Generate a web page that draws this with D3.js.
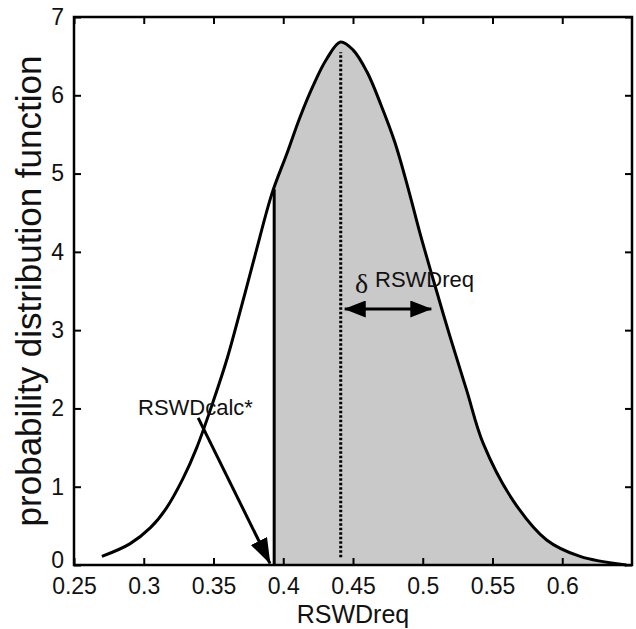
<!DOCTYPE html>
<html>
<head>
<meta charset="utf-8">
<script src="https://cdn.jsdelivr.net/npm/d3@7"></script>
<style>
  html, body { margin: 0; padding: 0; background: #fff; }
  svg { display: block; }
  text { font-family: "Liberation Sans", Arial, sans-serif; fill: #111; }
</style>
</head>
<body>
<div id="chart"></div>
<script>
// values
var xVals = [0.27, 0.29, 0.305, 0.316, 0.328, 0.338, 0.35, 0.36, 0.37, 0.38, 0.392,
  0.4025, 0.412, 0.4216, 0.431, 0.441, 0.45, 0.46, 0.47, 0.48, 0.49, 0.498, 0.5076,
  0.5195, 0.5315, 0.5434, 0.5649, 0.5888, 0.6128, 0.646];
var pdfVals = [0.11, 0.27, 0.48, 0.72, 1.1, 1.5, 2.1, 2.65, 3.3, 3.97, 4.75,
  5.25, 5.72, 6.13, 6.46, 6.68, 6.58, 6.3, 5.88, 5.4, 4.78, 4.24, 3.64,
  2.92, 2.23, 1.55, 0.82, 0.32, 0.11, 0.0];
var xTickVals = [0.25, 0.3, 0.35, 0.4, 0.45, 0.5, 0.55, 0.6];
var yTickVals = [0, 1, 2, 3, 4, 5, 6, 7];

var cutoffX = 0.3935, cutoffTop = 4.8;      // RSWDcalc* line
var meanX = 0.4412, meanBottom = 0.1, meanTop = 6.55;
var calcArrow = [[0.339, 1.88], [0.3905, 0.02]];
var deltaArrow = [[0.4412, 3.27], [0.509, 3.27]];

var width = 636, height = 629;
var margin = { top: 17, right: 4, bottom: 64, left: 74 };

var svg = d3.select("#chart").append("svg")
  .attr("width", width)
  .attr("height", height);

var x = d3.scaleLinear().domain([0.25, 0.65]).range([margin.left, width - margin.right]);
var y = d3.scaleLinear().domain([0, 7]).range([height - margin.bottom, margin.top]);

var pts = xVals.map(function(v, i) { return [v, pdfVals[i]]; });

svg.append("clipPath").attr("id", "right")
  .append("rect")
  .attr("x", x(cutoffX)).attr("y", margin.top)
  .attr("width", x(0.65) - x(cutoffX)).attr("height", y(0) - margin.top);

var area = d3.area()
  .x(function(d) { return x(d[0]); })
  .y0(y(0))
  .y1(function(d) { return y(d[1]); })
  .curve(d3.curveCatmullRom);

svg.append("path")
  .datum(pts)
  .attr("d", area)
  .attr("fill", "#c9c9c9")
  .attr("clip-path", "url(#right)");

var line = d3.line()
  .x(function(d) { return x(d[0]); })
  .y(function(d) { return y(d[1]); })
  .curve(d3.curveCatmullRom);

svg.append("path")
  .datum(pts)
  .attr("d", line)
  .attr("fill", "none")
  .attr("stroke", "#000")
  .attr("stroke-width", 3);

svg.append("line")
  .attr("x1", x(cutoffX)).attr("x2", x(cutoffX))
  .attr("y1", y(0)).attr("y2", y(cutoffTop))
  .attr("stroke", "#000").attr("stroke-width", 3);

svg.append("line")
  .attr("x1", x(meanX)).attr("x2", x(meanX))
  .attr("y1", y(meanBottom)).attr("y2", y(meanTop))
  .attr("stroke", "#000").attr("stroke-width", 3)
  .attr("stroke-dasharray", "2.5,2");

// arrow heads
var defs = svg.append("defs");
function head(id, len, w, orient) {
  defs.append("marker")
    .attr("id", id)
    .attr("viewBox", "0 " + (-w / 2) + " " + len + " " + w)
    .attr("refX", len - 1).attr("refY", 0)
    .attr("markerWidth", len).attr("markerHeight", w)
    .attr("markerUnits", "userSpaceOnUse")
    .attr("orient", orient)
    .append("path")
    .attr("d", "M0," + (-w / 2) + "L" + len + ",0L0," + (w / 2) + "Z")
    .attr("fill", "#000");
}
head("headBig", 26, 18, "auto");
head("headEnd", 22, 17, "auto");
head("headStart", 22, 17, "auto-start-reverse");

svg.append("line")
  .attr("x1", x(calcArrow[0][0])).attr("y1", y(calcArrow[0][1]))
  .attr("x2", x(calcArrow[1][0])).attr("y2", y(calcArrow[1][1]))
  .attr("stroke", "#000").attr("stroke-width", 3)
  .attr("marker-end", "url(#headBig)");

svg.append("line")
  .attr("x1", x(deltaArrow[0][0]) + 4).attr("y1", y(deltaArrow[0][1]))
  .attr("x2", x(deltaArrow[1][0]) - 4).attr("y2", y(deltaArrow[1][1]))
  .attr("stroke", "#000").attr("stroke-width", 3)
  .attr("marker-start", "url(#headStart)")
  .attr("marker-end", "url(#headEnd)");

// labels on the plot
svg.append("text")
  .attr("x", x(0.2959)).attr("y", y(1.92))
  .attr("font-size", 22)
  .text("RSWDcalc*");

svg.append("text")
  .attr("x", x(0.4514)).attr("y", y(3.48))
  .attr("font-size", 28)
  .style("font-family", "'Liberation Serif', serif")
  .text("δ");

svg.append("text")
  .attr("x", x(0.4658)).attr("y", y(3.55))
  .attr("font-size", 22)
  .text("RSWDreq");

// axes, MATLAB style box with inward ticks
var tickLen = 7;
var xAxisB = d3.axisBottom(x).tickValues(xTickVals).tickSize(-tickLen).tickPadding(13)
  .tickFormat(function(d) { return String(+d.toFixed(2)); });
var xAxisT = d3.axisTop(x).tickValues(xTickVals).tickSize(-tickLen).tickFormat("");
var yAxisL = d3.axisLeft(y).tickValues(yTickVals).tickSize(-tickLen).tickPadding(10)
  .tickFormat(d3.format("d"));
var yAxisR = d3.axisRight(y).tickValues(yTickVals).tickSize(-tickLen).tickFormat("");

function style(g) {
  g.attr("font-size", 23).attr("font-family", null);
  g.select("path.domain").remove();
  g.selectAll(".tick line").attr("stroke", "#000").attr("stroke-width", 2);
  g.selectAll(".tick text").attr("fill", "#111");
}

svg.append("g").attr("transform", "translate(0," + y(0) + ")").call(xAxisB).call(style);
svg.append("g").attr("transform", "translate(0," + margin.top + ")").call(xAxisT).call(style);
var yLeft = svg.append("g").attr("transform", "translate(" + margin.left + ",0)").call(yAxisL).call(style);
svg.append("g").attr("transform", "translate(" + (width - margin.right) + ",0)").call(yAxisR).call(style);

// the "0" of the y axis sits a little higher, clear of "0.25"
yLeft.selectAll(".tick text").filter(function(d) { return d === 0; })
  .attr("dy", "0.12em");

svg.append("rect")
  .attr("x", x(0.25)).attr("y", y(7))
  .attr("width", x(0.65) - x(0.25)).attr("height", y(0) - y(7))
  .attr("fill", "none").attr("stroke", "#000").attr("stroke-width", 2.5);

svg.append("text")
  .attr("x", (x(0.25) + x(0.65)) / 2).attr("y", height - 6)
  .attr("text-anchor", "middle")
  .attr("font-size", 25)
  .text("RSWDreq");

svg.append("text")
  .attr("transform", "translate(41," + ((y(0) + y(7)) / 2) + ") rotate(-90)")
  .attr("text-anchor", "middle")
  .attr("font-size", 35)
  .text("probability distribution function");
</script>
</body>
</html>
